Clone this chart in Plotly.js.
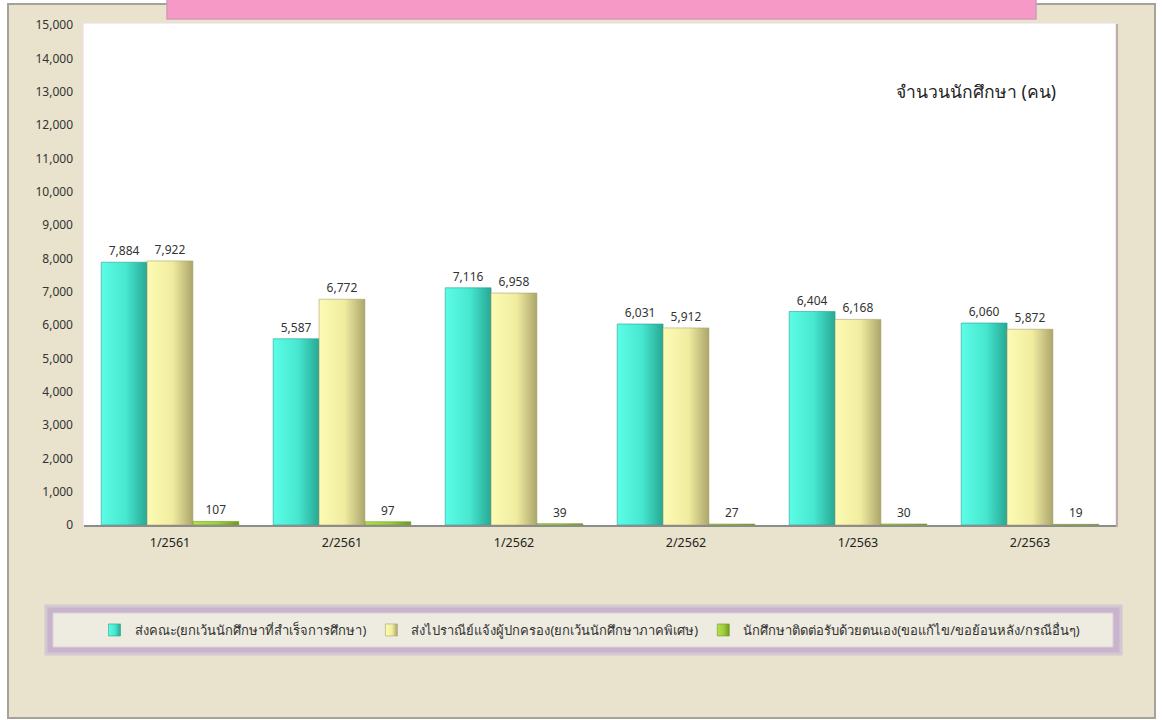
<!DOCTYPE html>
<html>
<head>
<meta charset="utf-8">
<script src="https://cdn.plot.ly/plotly-3.0.1.min.js"></script>
<style>html,body{margin:0;padding:0;background:#fff;}#chart{width:1162px;height:720px;}</style>
</head>
<body>
<div id="chart"></div>
<script>
const categories = ['1/2561', '2/2561', '1/2562', '2/2562', '1/2563', '2/2563'];
const seriesNames = [
  'ส่งคณะ(ยกเว้นนักศึกษาที่สำเร็จการศึกษา)',
  'ส่งไปราณีย์แจ้งผู้ปกครอง(ยกเว้นนักศึกษาภาคพิเศษ)',
  'นักศึกษาติดต่อรับด้วยตนเอง(ขอแก้ไข/ขอย้อนหลัง/กรณีอื่นๆ)'
];
const sentToFaculty = [7884, 5587, 7116, 6031, 6404, 6060];
const sentByMail = [7922, 6772, 6958, 5912, 6168, 5872];
const selfPickup = [107, 97, 39, 27, 30, 19];
const yTickValues = [0,1000,2000,3000,4000,5000,6000,7000,8000,9000,10000,11000,12000,13000,14000,15000];
const unitLabel = 'จำนวนนักศึกษา (คน)';

const FONT = "Tahoma, 'Noto Sans', 'DejaVu Sans', sans-serif";
const fmt = v => v.toLocaleString('en-US');

const colors = ['#4ff0d8', '#f6f3a6', '#9ccc3c'];
const lineColors = ['#2aa08e', '#a8a26a', '#6f9a20'];
const seriesValues = [sentToFaculty, sentByMail, selfPickup];

const traces = seriesValues.map((vals, i) => ({
  type: 'bar',
  name: seriesNames[i],
  x: categories,
  y: vals,
  text: vals.map(fmt),
  textposition: 'outside',
  textfont: {family: FONT, size: 12, color: '#333'},
  cliponaxis: false,
  marker: {color: colors[i], line: {color: lineColors[i], width: 0.6}},
  hoverinfo: 'x+y+name'
}));

const X = px => (px - 84) / 1032;
const Y = py => (525 - py) / 500;

const layout = {
  width: 1162, height: 720,
  margin: {l: 84, r: 46, t: 25, b: 195},
  paper_bgcolor: '#ffffff',
  plot_bgcolor: '#ffffff',
  font: {family: FONT, color: '#333'},
  barmode: 'group',
  bargap: 0.2,
  bargroupgap: 0,
  showlegend: true,
  legend: {
    orientation: 'h',
    x: X(590), xanchor: 'center',
    y: Y(630), yanchor: 'middle',
    bgcolor: 'rgba(0,0,0,0)',
    font: {family: FONT, size: 13, color: '#333'},
    itemwidth: 30,
    traceorder: 'normal'
  },
  xaxis: {
    type: 'category',
    showline: true, linecolor: '#8c8c8c', linewidth: 2,
    showgrid: false, zeroline: false,
    ticks: 'outside', ticklen: 5, tickcolor: 'rgba(0,0,0,0)',
    tickfont: {family: FONT, size: 12.5, color: '#222'},
    fixedrange: true
  },
  yaxis: {
    range: [0, 15000],
    tickvals: yTickValues,
    ticktext: yTickValues.map(fmt),
    showgrid: false, zeroline: false, showline: false,
    ticks: '', ticklen: 0,
    ticklabelstandoff: 10,
    tickfont: {family: FONT, size: 12, color: '#333'},
    fixedrange: true
  },
  shapes: [
    {type: 'rect', xref: 'paper', yref: 'paper', layer: 'below',
     x0: X(8), x1: X(1155), y0: Y(4), y1: Y(718),
     fillcolor: '#e9e3cd', line: {color: '#a3a39a', width: 2}},
    {type: 'rect', xref: 'paper', yref: 'paper', layer: 'below',
     x0: X(83), x1: X(1116), y0: Y(23), y1: Y(526),
     fillcolor: '#ffffff', line: {color: '#efd8e8', width: 1}},
    {type: 'line', xref: 'paper', yref: 'paper', layer: 'below',
     x0: X(1117), x1: X(1117), y0: Y(24), y1: Y(527),
     line: {color: '#b8b0a8', width: 2}},
    {type: 'rect', xref: 'paper', yref: 'paper', layer: 'above',
     x0: X(167), x1: X(1036), y0: Y(-6), y1: Y(19),
     fillcolor: '#f799c6', line: {color: '#d49ab8', width: 1.5}},
    {type: 'rect', xref: 'paper', yref: 'paper', layer: 'below',
     x0: X(46), x1: X(1121), y0: Y(606), y1: Y(654),
     fillcolor: '#c8b4cc', line: {color: '#d6c8d2', width: 3}},
    {type: 'rect', xref: 'paper', yref: 'paper', layer: 'below',
     x0: X(53), x1: X(1113), y0: Y(613), y1: Y(647),
     fillcolor: '#eeebe0', line: {color: '#d8d0d8', width: 1}}
  ],
  annotations: [
    {xref: 'paper', yref: 'paper', x: X(976), y: Y(91), xanchor: 'center', yanchor: 'middle',
     text: unitLabel, showarrow: false,
     font: {family: FONT, size: 17.5, color: '#222'}}
  ]
};

Plotly.newPlot('chart', traces, layout, {displayModeBar: false, staticPlot: true}).then(gd => {
  const svg = gd.querySelector('svg.main-svg');
  const ns = 'http://www.w3.org/2000/svg';
  let defs = svg.querySelector('defs');
  if (!defs) { defs = document.createElementNS(ns, 'defs'); svg.insertBefore(defs, svg.firstChild); }
  const stops = [
    [['0%', '#5cfde6'], ['55%', '#46e6cf'], ['100%', '#27a894']],
    [['0%', '#fdfbb4'], ['55%', '#f0eda0'], ['100%', '#aca66c']],
    [['0%', '#b6e050'], ['55%', '#9ccc3c'], ['100%', '#6f9a20']]
  ];
  stops.forEach((st, i) => {
    const g = document.createElementNS(ns, 'linearGradient');
    g.setAttribute('id', 'bargrad' + i);
    g.setAttribute('x1', '0'); g.setAttribute('x2', '1');
    g.setAttribute('y1', '0'); g.setAttribute('y2', '0');
    st.forEach(([o, c]) => {
      const s = document.createElementNS(ns, 'stop');
      s.setAttribute('offset', o); s.setAttribute('stop-color', c);
      g.appendChild(s);
    });
    defs.appendChild(g);
  });
  gd.querySelectorAll('.barlayer .trace.bars').forEach((t, i) => {
    t.querySelectorAll('.point path').forEach(p => { p.style.fill = 'url(#bargrad' + i + ')'; });
  });
  gd.querySelectorAll('.legend .traces').forEach((t, i) => {
    t.querySelectorAll('.legendpoints path').forEach(p => { p.style.fill = 'url(#bargrad' + i + ')'; });
  });
});
</script>
</body>
</html>
